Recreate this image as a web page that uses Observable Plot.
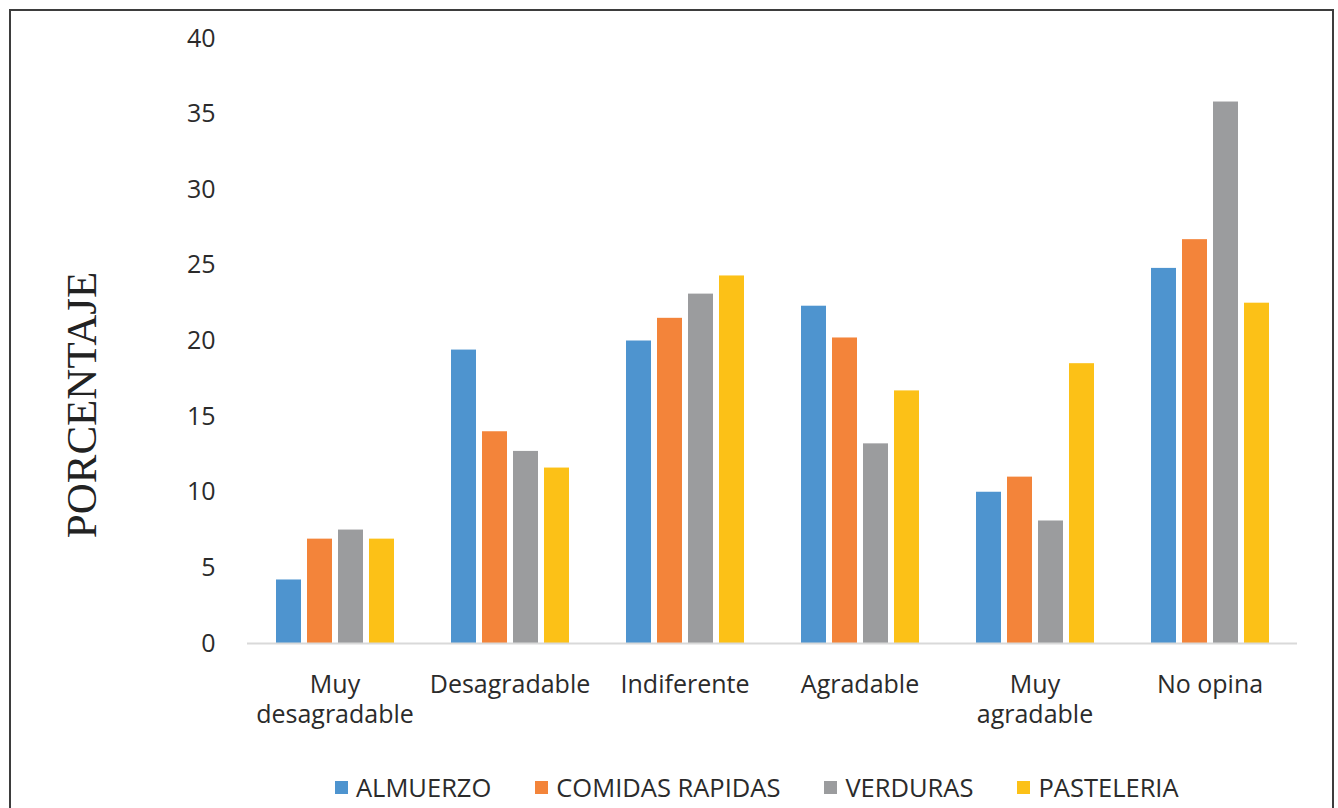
<!DOCTYPE html>
<html>
<head>
<meta charset="utf-8">
<script src="https://cdn.jsdelivr.net/npm/d3@7"></script>
<script src="https://cdn.jsdelivr.net/npm/@observablehq/plot@0.6"></script>
<style>
  html, body { margin: 0; padding: 0; background: #fff; }
  body { width: 1338px; height: 808px; position: relative; overflow: hidden; font-family: "Open Sans", sans-serif; }
  #frame { position: absolute; left: 9px; top: 9px; width: 1325px; height: 830px; border: 2px solid #3d3d3d; border-bottom: none; box-sizing: border-box; pointer-events: none; }
  #chart { position: absolute; left: 0; top: 0; }
  #ylabel { position: absolute; left: 81px; top: 405px; transform: translate(-50%, -50%) rotate(-90deg); font-family: "Liberation Serif", "DejaVu Serif", serif; font-size: 43px; color: #222; white-space: nowrap; }
  #legend { position: absolute; left: 335px; top: 770px; }
  #legend > div { font-family: "Open Sans", sans-serif !important; font-size: 25.5px !important; color: #2b2b2b !important; min-height: 33px; margin: 0 !important; }
  #legend span { margin-right: 44px !important; }
  #legend span svg { margin-right: 8px !important; }
</style>
</head>
<body>
<div id="chart"></div>
<div id="ylabel">PORCENTAJE</div>
<div id="legend"></div>
<div id="frame"></div>
<script>
const categories = ["Muy\ndesagradable", "Desagradable", "Indiferente", "Agradable", "Muy\nagradable", "No opina"];
const series = ["ALMUERZO", "COMIDAS RAPIDAS", "VERDURAS", "PASTELERIA"];
const colors = ["#4e94cf", "#f3843a", "#9b9c9e", "#fcc117"];
const almuerzo       = [4.2, 19.4, 20.0, 22.3, 10.0, 24.8];
const comidasRapidas = [6.9, 14.0, 21.5, 20.2, 11.0, 26.7];
const verduras       = [7.5, 12.7, 23.1, 13.2, 8.1, 35.8];
const pasteleria     = [6.9, 11.6, 24.3, 16.7, 18.5, 22.5];
const yTicks = [0, 5, 10, 15, 20, 25, 30, 35, 40];

const valuesBySeries = [almuerzo, comidasRapidas, verduras, pasteleria];
const data = [];
categories.forEach((c, i) => {
  series.forEach((s, j) => data.push({cat: c, serie: s, valor: valuesBySeries[j][i]}));
});

const chart = Plot.plot({
  width: 1338,
  height: 740,
  marginTop: 38,
  marginBottom: 97,
  marginLeft: 247,
  marginRight: 41,
  style: {fontFamily: "Open Sans", color: "#2b2b2b", background: "transparent"},
  fx: {domain: categories, padding: 0, label: null},
  x: {domain: series, paddingInner: 0.2, paddingOuter: 0.835, axis: null},
  y: {domain: [0, 40], label: null},
  color: {domain: series, range: colors},
  marks: [
    Plot.barY(data, {fx: "cat", x: "serie", y: "valor", fill: "serie"}),
    Plot.ruleY([0], {stroke: "#d9d9d9", strokeWidth: 2}),
    Plot.axisY({ticks: yTicks, tickSize: 0, tickPadding: 32, fontSize: 25, label: null}),
    Plot.axisFx({anchor: "bottom", tickSize: 0, tickPadding: 28, fontSize: 25, lineHeight: 1.2, label: null})
  ]
});
document.getElementById("chart").appendChild(chart);

const legend = Plot.legend({
  color: {domain: series, range: colors},
  legend: "swatches",
  swatchSize: 13
});
document.getElementById("legend").appendChild(legend);
</script>
</body>
</html>
